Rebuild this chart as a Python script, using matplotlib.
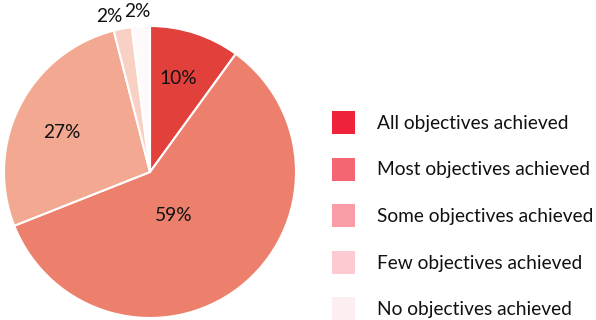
import numpy as np
import matplotlib
matplotlib.use("Agg")
import matplotlib.pyplot as plt
from matplotlib.patches import Rectangle

plt.rcParams['font.family'] = ['Lato', 'DejaVu Sans']

categories = ['All objectives achieved', 'Most objectives achieved',
              'Some objectives achieved', 'Few objectives achieved',
              'No objectives achieved']
shares = [10, 59, 27, 2, 2]
pie_colors = ['#e2403a', '#ec806c', '#f2a891', '#f8d0c4', '#fffafa']
legend_colors = ['#f0213a', '#f56673', '#f99ca5', '#fccad0', '#fdeff0']
# percentage label placement: radius (pie radius = 1) and angle nudge in degrees
label_radius = [0.67, 0.34, 0.66, 1.1, 1.1]
label_nudge = [1.5, -9, 3, 4, 1]

W, H = 596, 320
fig = plt.figure(figsize=(W / 100, H / 100), dpi=100)
ax = fig.add_axes([4 / W, 2 / H, 292 / W, 292 / H])

wedges, _ = ax.pie(shares, colors=pie_colors, startangle=90, counterclock=False,
                   wedgeprops=dict(edgecolor='white', linewidth=1.5))
ax.set_xlim(-1, 1)
ax.set_ylim(-1, 1)

for w, v, r, d in zip(wedges, shares, label_radius, label_nudge):
    a = np.deg2rad((w.theta1 + w.theta2) / 2 + d)
    ax.text(r * np.cos(a), r * np.sin(a), f'{v}%', ha='center', va='center',
            fontsize=13.8, color='#111111', clip_on=False)

# legend: colour squares with labels, laid out in pixel units
box = 23
for i, (lab, c) in enumerate(zip(categories, legend_colors)):
    yc = 122.5 + 46.5 * i
    fig.add_artist(Rectangle((332 / W, 1 - (yc + box / 2) / H), box / W, box / H,
                             transform=fig.transFigure, facecolor=c, edgecolor='none'))
    fig.text(377 / W, 1 - (yc + 1) / H, lab, ha='left', va='center',
             fontsize=13.8, color='#111111')

fig.savefig('out.png', dpi=100)
